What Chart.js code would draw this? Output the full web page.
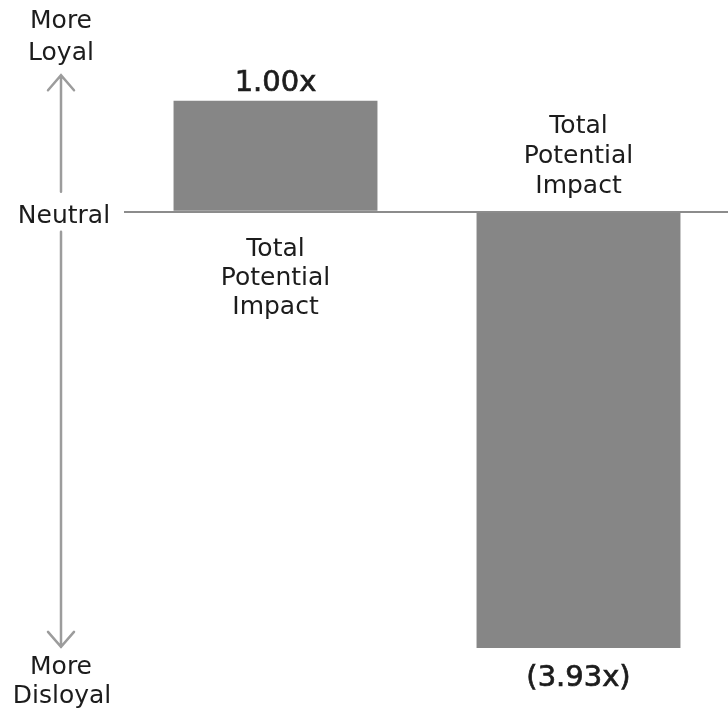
<!DOCTYPE html>
<html>
<head>
<meta charset="utf-8">
<script src="https://cdn.jsdelivr.net/npm/chart.js@4"></script>
<style>
  html, body { margin: 0; padding: 0; background: #ffffff; overflow: hidden; }
  #wrap { width: 728px; height: 708px; position: relative; overflow: hidden; }
</style>
</head>
<body>
<div id="wrap"><canvas id="c" width="730" height="708"></canvas></div>
<script>
// ---- data ----
const categories = ["Total Potential Impact", "Total Potential Impact"];
const values = [1.00, -3.93];
const valueLabels = ["1.00x", "(3.93x)"];
const categoryLabelLines = [["Total", "Potential", "Impact"], ["Total", "Potential", "Impact"]];
const axisTopLabel = ["More", "Loyal"];
const axisMidLabel = "Neutral";
const axisBottomLabel = ["More", "Disloyal"];
const arrowRange = [1.23, -3.92]; // axis arrow extent in value units

const FONT = '"DejaVu Sans", sans-serif';
const TEXT = '#1c1c1c';
const BAR = '#868686';
const ARROW = '#9c9c9c';

const annotate = {
  id: 'annotate',
  afterDatasetsDraw(chart) {
    const ctx = chart.ctx;
    const y = chart.scales.y;
    const meta = chart.getDatasetMeta(0);
    const zero = y.getPixelForValue(0);
    ctx.save();
    ctx.fillStyle = TEXT;
    ctx.strokeStyle = TEXT;
    ctx.textAlign = 'center';
    ctx.textBaseline = 'alphabetic';
    const valueText = (t, x, yy) => {
      ctx.font = '29px ' + FONT;
      ctx.lineWidth = 0.7;
      ctx.fillText(t, x, yy);
      ctx.strokeText(t, x, yy);
    };
    meta.data.forEach((bar, i) => {
      const v = values[i];
      const lines = categoryLabelLines[i];
      if (v >= 0) {
        valueText(valueLabels[i], bar.x, bar.y - 10);
        ctx.font = '25px ' + FONT;
        lines.forEach((t, k) => ctx.fillText(t, bar.x, zero + 44 + k * 29));
      } else {
        valueText(valueLabels[i], bar.x, bar.y + 38);
        ctx.font = '25px ' + FONT;
        const n = lines.length;
        lines.forEach((t, k) => ctx.fillText(t, bar.x, zero - 19 - (n - 1 - k) * 30));
      }
    });

    // left axis arrow + labels
    const ax = 61;
    const top = y.getPixelForValue(arrowRange[0]);
    const bot = y.getPixelForValue(arrowRange[1]);
    ctx.strokeStyle = ARROW;
    ctx.lineWidth = 2.5;
    ctx.lineCap = 'round';
    ctx.beginPath();
    ctx.moveTo(ax, top); ctx.lineTo(ax, zero - 20);
    ctx.moveTo(ax, zero + 20); ctx.lineTo(ax, bot);
    ctx.moveTo(ax - 13, top + 15); ctx.lineTo(ax, top); ctx.lineTo(ax + 13, top + 15);
    ctx.moveTo(ax - 13, bot - 15); ctx.lineTo(ax, bot); ctx.lineTo(ax + 13, bot - 15);
    ctx.stroke();

    ctx.fillStyle = TEXT;
    ctx.font = '25px ' + FONT;
    ctx.fillText(axisTopLabel[0], ax, 28);
    ctx.fillText(axisTopLabel[1], ax, 60);
    ctx.fillText(axisMidLabel, ax + 3, zero + 11);
    ctx.fillText(axisBottomLabel[0], ax, 674);
    ctx.fillText(axisBottomLabel[1], ax + 1, 703);
    ctx.restore();
  }
};

new Chart(document.getElementById('c'), {
  type: 'bar',
  data: {
    labels: categories,
    datasets: [{
      data: values,
      backgroundColor: BAR,
      borderWidth: 0,
      barPercentage: 0.673,
      categoryPercentage: 1.0
    }]
  },
  options: {
    responsive: false,
    animation: false,
    devicePixelRatio: 1,
    layout: { padding: { left: 124, right: 0, top: 12, bottom: 30 } },
    plugins: { legend: { display: false }, tooltip: { enabled: false } },
    scales: {
      x: { display: false },
      y: {
        min: -4.2,
        max: 1.8,
        afterBuildTicks: (s) => { s.ticks = [{ value: 0 }]; },
        ticks: { display: false },
        border: { display: false },
        grid: { color: '#8c8c8c', lineWidth: 2, drawTicks: false }
      }
    }
  },
  plugins: [annotate]
});
</script>
</body>
</html>
